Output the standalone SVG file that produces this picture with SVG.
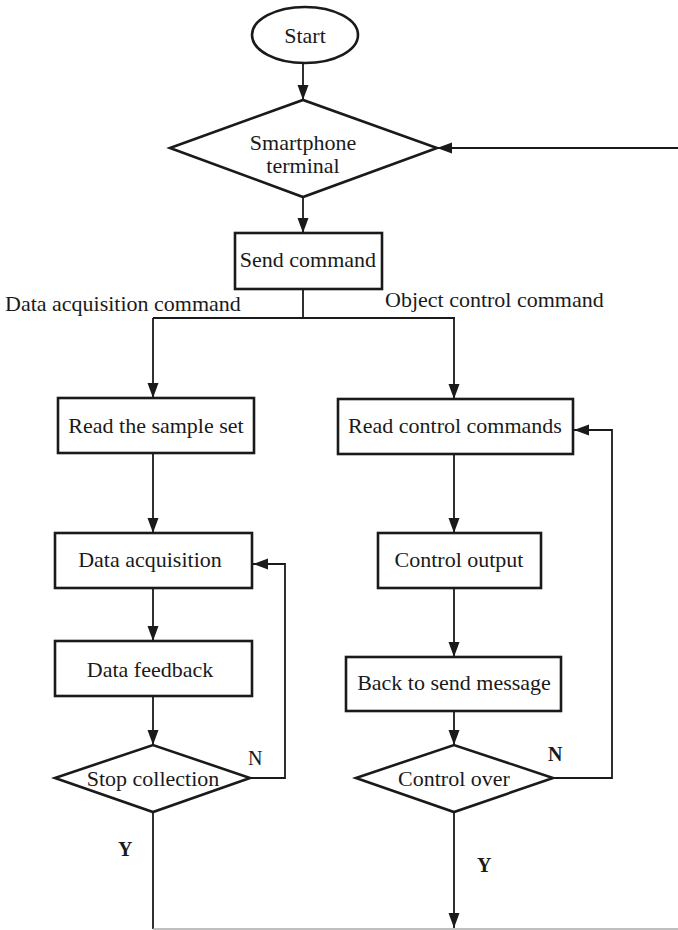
<svg xmlns="http://www.w3.org/2000/svg" width="678" height="930" viewBox="0 0 678 930">
<style>
text{font-family:"Liberation Serif","Times New Roman",serif;font-size:22px;fill:#1a1a1a;text-anchor:middle}
.lbl{text-anchor:start}
.yn{font-size:20px;font-weight:bold;text-anchor:start}
.ynr{font-size:20px;text-anchor:start}
.shape{fill:#fff;stroke:#1a1a1a;stroke-width:2.6}
.conn{fill:none;stroke:#1a1a1a;stroke-width:1.8}
.gray{fill:none;stroke:#aaa;stroke-width:1.5}
</style>
<defs>
<marker id="arr" markerUnits="userSpaceOnUse" markerWidth="16" markerHeight="12" refX="15" refY="5.5" orient="auto">
<path d="M0,0 L15,5.5 L0,11 z" fill="#1a1a1a"/>
</marker>
</defs>
<g id="connectors">
<path class="conn" d="M303,63 L303,100" marker-end="url(#arr)"/>
<path class="conn" d="M678,148 L437,148" marker-end="url(#arr)"/>
<path class="conn" d="M303,197 L303,233" marker-end="url(#arr)"/>
<path class="conn" d="M303,289 L303,318 M153,318 L455,318"/>
<path class="conn" d="M153,318 L153,398" marker-end="url(#arr)"/>
<path class="conn" d="M454,318 L454,399" marker-end="url(#arr)"/>
<path class="conn" d="M153,453 L153,533" marker-end="url(#arr)"/>
<path class="conn" d="M454,454 L454,533" marker-end="url(#arr)"/>
<path class="conn" d="M153,588 L153,641" marker-end="url(#arr)"/>
<path class="conn" d="M454,588 L454,657" marker-end="url(#arr)"/>
<path class="conn" d="M153,696 L153,745" marker-end="url(#arr)"/>
<path class="conn" d="M454,711 L454,745" marker-end="url(#arr)"/>
<path class="conn" d="M250,778 L285,778 L285,564 L253,564" marker-end="url(#arr)"/>
<path class="conn" d="M553,778 L612,778 L612,430 L574,430" marker-end="url(#arr)"/>
<path class="conn" d="M153,812 L153,929"/>
<path class="gray" d="M153,929 L678,929"/>
<path class="conn" d="M454,812 L454,928" marker-end="url(#arr)"/>
<text class="lbl" x="5" y="311">Data acquisition command</text>
<text class="lbl" x="385" y="307">Object control command</text>
<text class="ynr" x="248" y="765">N</text>
<text class="yn" x="548" y="761">N</text>
<text class="yn" x="118" y="856">Y</text>
<text class="yn" x="477" y="872">Y</text>
</g>
<g id="start">
<ellipse class="shape" cx="305" cy="35" rx="53" ry="28"/>
<text x="305" y="43">Start</text>
</g>
<g id="smartphone">
<polygon class="shape" points="170,148 303,100 437,148 303,197"/>
<text x="303" y="150">Smartphone</text>
<text x="303" y="173">terminal</text>
</g>
<g id="send">
<rect class="shape" x="235" y="233" width="147" height="56"/>
<text x="308" y="267">Send command</text>
</g>
<g id="readsample">
<rect class="shape" x="58" y="398" width="196" height="55"/>
<text x="156" y="433">Read the sample set</text>
</g>
<g id="readcontrol">
<rect class="shape" x="338" y="399" width="235" height="55"/>
<text x="455" y="433">Read control commands</text>
</g>
<g id="dataacq">
<rect class="shape" x="55" y="533" width="197" height="55"/>
<text x="150" y="567">Data acquisition</text>
</g>
<g id="controlout">
<rect class="shape" x="378" y="533" width="163" height="55"/>
<text x="459" y="567">Control output</text>
</g>
<g id="feedback">
<rect class="shape" x="55" y="641" width="197" height="55"/>
<text x="150" y="677">Data feedback</text>
</g>
<g id="backsend">
<rect class="shape" x="346" y="657" width="215" height="54"/>
<text x="454" y="690">Back to send message</text>
</g>
<g id="stop">
<polygon class="shape" points="55,778 153,745 250,778 153,812"/>
<text x="153" y="786">Stop collection</text>
</g>
<g id="controlover">
<polygon class="shape" points="356,778 454,745 553,778 454,812"/>
<text x="454" y="786">Control over</text>
</g>
</svg>
